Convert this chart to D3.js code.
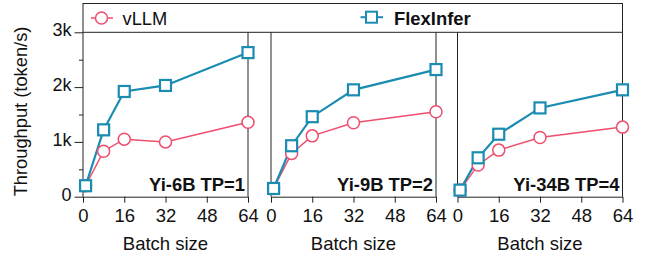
<!DOCTYPE html>
<html><head><meta charset="utf-8">
<script src="https://cdn.jsdelivr.net/npm/d3@7"></script>
<style>body{margin:0;background:#fff}svg{display:block}text{font-family:"Liberation Sans",Arial,sans-serif}</style>
</head><body><div id="c"></div>
<script>
const batches = [1, 8, 16, 32, 64];
const panelLabels = ["Yi-6B TP=1", "Yi-9B TP=2", "Yi-34B TP=4"];
const vllm = [
  [0.2, 0.83, 1.05, 1.0, 1.36],
  [0.15, 0.79, 1.11, 1.35, 1.55],
  [0.12, 0.58, 0.85, 1.08, 1.27]
];
const flexinfer = [
  [0.2, 1.22, 1.92, 2.03, 2.63],
  [0.15, 0.93, 1.46, 1.95, 2.32],
  [0.12, 0.71, 1.14, 1.62, 1.95]
];
const xTicks = [0, 16, 32, 48, 64];
const yTicks = [0, 1, 2, 3];
const yTickLabels = ["0", "1k", "2k", "3k"];
const seriesNames = ["vLLM", "FlexInfer"];

const W = 649, H = 258;
const pink = "#ee4d6e", teal = "#1a8cb2";
const FONT = '"Liberation Sans",Arial,sans-serif';
const svg = d3.select("#c").append("svg").attr("width", W).attr("height", H);

const panelX = [[83, 248], [271, 436], [457.5, 622.5]];
const yTop = 32.3, yBot = 196.7, legTop = 3.5;
const y = d3.scaleLinear().domain([0, 3]).range([yBot, yTop]);

// legend box
svg.append("rect").attr("x", 83).attr("y", legTop).attr("width", 622.5 - 83).attr("height", yTop - legTop)
  .attr("fill", "none").attr("stroke", "#222").attr("stroke-width", 1);

// legend items
const lg = svg.append("g");
lg.append("line").attr("x1", 91).attr("x2", 113).attr("y1", 18).attr("y2", 18).attr("stroke", pink).attr("stroke-width", 1.5);
lg.append("circle").attr("cx", 101.5).attr("cy", 18).attr("r", 6).attr("fill", "#fff").attr("stroke", pink).attr("stroke-width", 1.5);
lg.append("text").attr("x", 122.5).attr("y", 25).attr("font-size", 18.3).attr("fill", "#111").text(seriesNames[0]);
lg.append("line").attr("x1", 360.5).attr("x2", 383).attr("y1", 17.2).attr("y2", 17.2).attr("stroke", teal).attr("stroke-width", 2);
lg.append("rect").attr("x", 366).attr("y", 11.7).attr("width", 11).attr("height", 11).attr("fill", "#fff").attr("stroke", teal).attr("stroke-width", 2);
lg.append("text").attr("x", 394).attr("y", 25).attr("font-size", 18.4).attr("font-weight", "bold").attr("fill", "#111").text(seriesNames[1]);

// y axis (panel 1)
const yAxis = d3.axisLeft(y).tickValues(yTicks).tickFormat((d, i) => yTickLabels[i]).tickSize(8.5).tickPadding(3);
const ya = svg.append("g").attr("transform", "translate(83,0)").call(yAxis);
ya.select(".domain").remove();
ya.selectAll("text").attr("font-size", 18).attr("fill", "#111").attr("dy", "0.2em").style("font-family", FONT);
ya.selectAll("line").attr("stroke", "#222");
const ym = d3.axisLeft(y).tickValues([0.5, 1.5, 2.5]).tickFormat("").tickSize(4);
const ymg = svg.append("g").attr("transform", "translate(83,0)").call(ym);
ymg.select(".domain").remove();
ymg.selectAll("line").attr("stroke", "#222");

svg.append("text").attr("transform", `translate(27,111.5) rotate(-90)`)
  .attr("text-anchor", "middle").attr("font-size", 18.3).attr("fill", "#111").text("Throughput (token/s)");

panelX.forEach((px, p) => {
  const x = d3.scaleLinear().domain([0, 64]).range(px);
  const g = svg.append("g");
  g.append("line").attr("x1", px[0]).attr("x2", px[0]).attr("y1", yTop).attr("y2", yBot).attr("stroke", "#222");
  g.append("line").attr("x1", px[1]).attr("x2", px[1]).attr("y1", yTop).attr("y2", yBot).attr("stroke", "#222");
  const xa = g.append("g").attr("transform", `translate(0,${yBot})`)
    .call(d3.axisBottom(x).tickValues(xTicks).tickSize(6).tickPadding(6.5).tickSizeOuter(0));
  xa.select(".domain").attr("stroke", "#222");
  xa.selectAll("line").attr("stroke", "#222");
  xa.selectAll("text").attr("font-size", 18.5).attr("fill", "#111").style("font-family", FONT);
  g.append("text").attr("x", (px[0] + px[1]) / 2).attr("y", 250).attr("text-anchor", "middle")
    .attr("font-size", 18.5).attr("fill", "#111").text("Batch size");
  g.append("text").attr("x", px[1] - 3).attr("y", 191).attr("text-anchor", "end")
    .attr("font-size", 18.4).attr("font-weight", "bold").attr("fill", "#111").text(panelLabels[p]);

  const line = d3.line().x((d, i) => x(batches[i])).y(d => y(d));
  g.append("path").datum(vllm[p]).attr("d", line).attr("fill", "none").attr("stroke", pink).attr("stroke-width", 1.5);
  g.append("path").datum(flexinfer[p]).attr("d", line).attr("fill", "none").attr("stroke", teal).attr("stroke-width", 2.2);
  g.selectAll(".c").data(vllm[p]).join("circle").attr("cx", (d, i) => x(batches[i])).attr("cy", d => y(d))
    .attr("r", 6).attr("fill", "#fff").attr("stroke", pink).attr("stroke-width", 1.5);
  g.selectAll(".s").data(flexinfer[p]).join("rect").attr("x", (d, i) => x(batches[i]) - 5.5).attr("y", d => y(d) - 5.5)
    .attr("width", 11).attr("height", 11).attr("fill", "#fff").attr("stroke", teal).attr("stroke-width", 2.2);
});
</script></body></html>
